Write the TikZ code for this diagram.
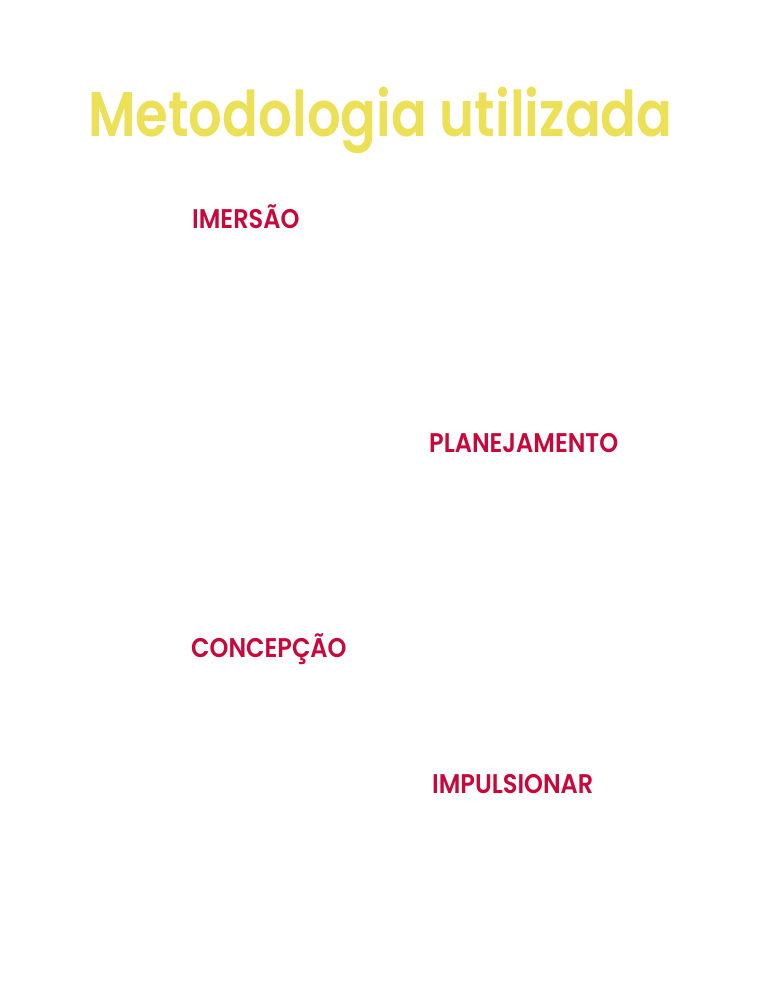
\documentclass[tikz,border=0pt]{standalone}
\usepackage{fontspec}
\setmainfont{Poppins}
\newfontfamily\titlefont{Poppins SemiBold}[FakeStretch=0.84]
\newfontfamily\stagefont{Poppins SemiBold}[FakeStretch=0.89]
\definecolor{titlecolor}{HTML}{ECE056}
\definecolor{stagecolor}{HTML}{C8073B}
\tikzset{
  titulo/.style = {anchor = base west, inner sep = 0pt, text = titlecolor, font = \fontsize{63}{63}\titlefont},
  etapa/.style = {anchor = base west, inner sep = 0pt, text = stagecolor, font = \fontsize{27}{27}\stagefont}
}
\begin{document}
\begin{tikzpicture}[x = 1pt, y = 1pt]
\pgfmathsetmacro\H{1000};
\fill[white] (0,0) rectangle (768,\H);
\useasboundingbox (0,0) rectangle (768,\H);
\node[titulo] (titulo) at (88,\H-137) {Metodologia utilizada};
\foreach \nome/\x/\y/\texto in {imersao/192/229/IMERSÃO, planejamento/429/453/PLANEJAMENTO, concepcao/191/658/CONCEPÇÃO, impulsionar/432/794/IMPULSIONAR}
  \node[etapa] (\nome) at (\x,\H-\y) {\texto};
\end{tikzpicture}
\end{document}
